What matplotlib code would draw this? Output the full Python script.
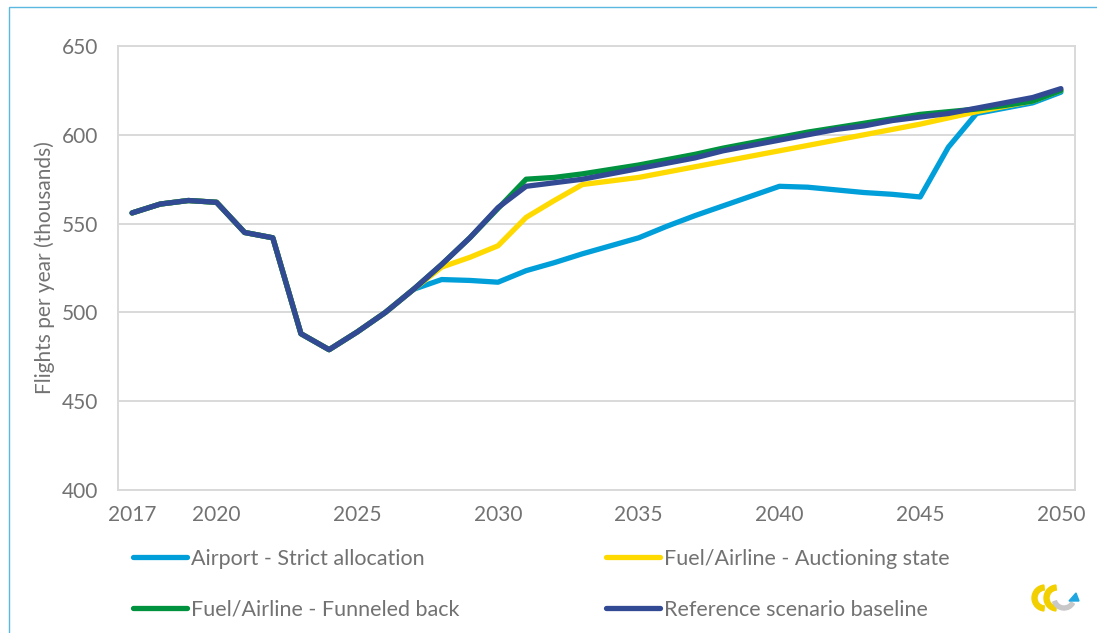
import numpy as np
import matplotlib
matplotlib.use("Agg")
import matplotlib.pyplot as plt
from matplotlib.patches import Rectangle, Wedge, Polygon

plt.rcParams['font.family'] = ['Lato', 'DejaVu Sans']

years = list(range(2017, 2051))

# thousands of flights per year
common = [556, 561, 563, 562, 545, 542, 488, 479, 489, 500, 513]

airport_strict = common + [518.5, 518, 517, 523.5, 528, 533, 537.5, 542, 548.5, 554.5,
                           560, 565.5, 571, 570.5, 569, 567.5, 566.5, 565, 593, 612,
                           615, 618, 624]
fuel_auction = common + [525.5, 531, 537.5, 553.5, 563, 572, 574, 576, 579, 582,
                         585, 588, 591, 594, 597, 600, 603, 606, 609.5, 613,
                         616, 619, 625]
fuel_funneled = common + [527, 542, 558.5, 575, 576, 578, 580.5, 583, 586, 589,
                          592.5, 595.5, 598.5, 601.5, 604, 606.5, 609, 611.5, 613, 614.5,
                          616.5, 619, 625]
reference = common + [527, 542, 559, 571, 573, 575, 578, 581, 584, 587,
                      591, 594, 597, 600, 603, 605, 608, 610, 612, 615,
                      618, 621, 626]

xticks = [2017, 2020, 2025, 2030, 2035, 2040, 2045, 2050]
yticks = [400, 450, 500, 550, 600, 650]

labels = ["Airport - Strict allocation", "Fuel/Airline - Auctioning state",
          "Fuel/Airline - Funneled back", "Reference scenario baseline"]
colors = ["#009FDA", "#FFDA00", "#00923F", "#324A93"]
series = [airport_strict, fuel_auction, fuel_funneled, reference]

grey = "#D9D9D9"
txt = "#727272"

fig = plt.figure(figsize=(10.97, 6.33), dpi=100)
ax = fig.add_axes([118/1097, 1-490/633, (1075-118)/1097, (490-46)/633])

lines = []
for vals, c, lab in zip(series, colors, labels):
    l, = ax.plot(years, vals, color=c, lw=3.8, solid_capstyle='round',
                 solid_joinstyle='round', label=lab)
    lines.append(l)

ax.set_xlim(2016.5, 2050.5)
ax.set_ylim(400, 650)
ax.set_xticks(xticks)
ax.set_yticks(yticks)
ax.tick_params(length=0, labelsize=15, labelcolor=txt)
ax.tick_params(axis='y', pad=14)
ax.tick_params(axis='x', pad=11)
ax.grid(axis='y', color=grey, lw=1.4)
ax.set_axisbelow(True)
for s in ax.spines.values():
    s.set_color(grey)
    s.set_linewidth(1.4)
ax.set_ylabel("Flights per year (thousands)", fontsize=15, color=txt, labelpad=5)

# legend, two columns placed by hand
leg_kw = dict(frameon=False, fontsize=15.5, labelcolor=txt, handlelength=2.5,
              handletextpad=0.2, labelspacing=1.42, borderpad=0,
              borderaxespad=0, loc='upper left')
fig.legend(handles=[lines[0], lines[2]], bbox_to_anchor=(133/1097, 1-549/633), **leg_kw)
fig.legend(handles=[lines[1], lines[3]], bbox_to_anchor=(606/1097, 1-549/633), **leg_kw)

# thin frame line around the figure
fig.patches.append(Rectangle((9/1097, -0.1), 1.2, 1.1 - 7/633, transform=fig.transFigure,
                             fill=False, edgecolor="#5BB8E0", lw=1.0))

# small logo bottom right
lax = fig.add_axes([1030/1097, 1-615/633, 52/1097, 36/633])
lax.set_xlim(0, 52)
lax.set_ylim(0, 36)
lax.set_aspect('equal')
lax.axis('off')
lax.add_patch(Wedge((15, 17), 13, 95, 265, width=5, color="#F2D000"))
lax.add_patch(Wedge((27, 17), 13, 95, 265, width=5, color="#F2D000"))
lax.add_patch(Wedge((34, 17), 12, 200, 330, width=4, color="#C8C8C8"))
lax.add_patch(Polygon([[39, 14], [49, 14], [46, 22]], color="#1FA6E0"))

fig.savefig("out.png", dpi=100)
